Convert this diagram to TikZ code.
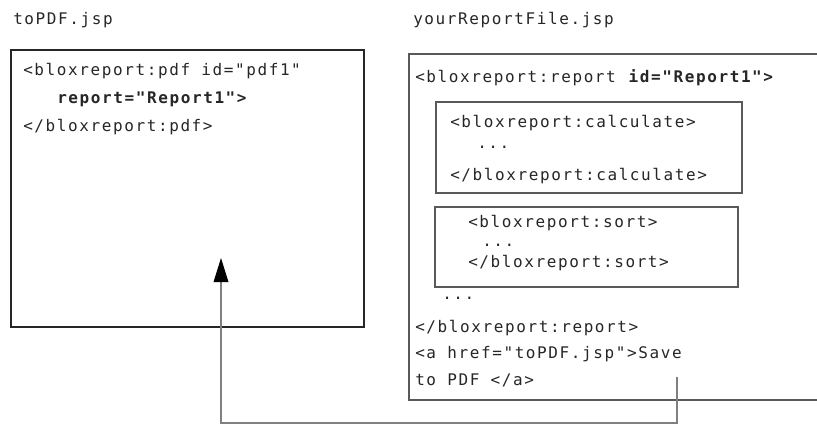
\documentclass[tikz,border=0pt]{standalone}
\usepackage{fontspec}
\newfontfamily\codefont[LetterSpace=10,Ligatures=TeXOff]{DejaVu Sans Mono}
\usetikzlibrary{arrows.meta}

\begin{document}
\begin{tikzpicture}[x=0.75pt,y=-0.75pt,
  code/.style={anchor=base west,inner sep=0pt,text=black!85,
    font=\codefont\fontsize{12pt}{14pt}\selectfont},
  frame/.style={draw=black!85,line width=1.3pt},
  inner/.style={draw=black!65,line width=0.8pt},
  link/.style={draw=black!50,line width=0.9pt}]

\useasboundingbox (0,0) rectangle (817,426);

% Titres
\node[code] (pdfname) at (13,24) {toPDF.jsp};
\node[code] (reportname) at (413,24) {yourReportFile.jsp};

% Page toPDF.jsp
\draw[frame] (11,50) rectangle (364,327);

\node[code] (pdfopen) at (23,75) {<bloxreport:pdf id="pdf1"};
\node[code] (pdfattr) at (57,103) {\bfseries report="Report1">};
\node[code] (pdfclose) at (23,131) {</bloxreport:pdf>};

% Page yourReportFile.jsp
\draw[inner] (817,54) -- (409,54) -- (409,400) -- (817,400);

\node[code] (repopen) at (415,82) {<bloxreport:report \textbf{id="Report1">}};

% Bloc calculate
\draw[inner] (436,102) rectangle (742,193);
\node[code] (calcopen) at (450,127) {<bloxreport:calculate>};
\node[code] (calcdots) at (477,148) {...};
\node[code] (calcclose) at (450,180) {</bloxreport:calculate>};

% Bloc sort
\draw[inner] (435,207) rectangle (738,287);
\node[code] (sortopen) at (468,227) {<bloxreport:sort>};
\node[code] (sortdots) at (482,246) {...};
\node[code] (sortclose) at (468,267) {</bloxreport:sort>};

\node[code] (moredots) at (442,299) {...};
\node[code] (repclose) at (415,332) {</bloxreport:report>};
\node[code] (hrefa) at (415,358) {<a href="toPDF.jsp">Save};
\node[code] (hrefb) at (415,385) {to PDF </a>};

% Lien vers toPDF.jsp
\coordinate (savelink) at (677,377);
\coordinate (pdftarget) at (221,258);
\draw[link,-{Triangle[length=18pt,width=11pt,color=black]}]
  (savelink) -- ++(0,46) -| (pdftarget);

\end{tikzpicture}
\end{document}
